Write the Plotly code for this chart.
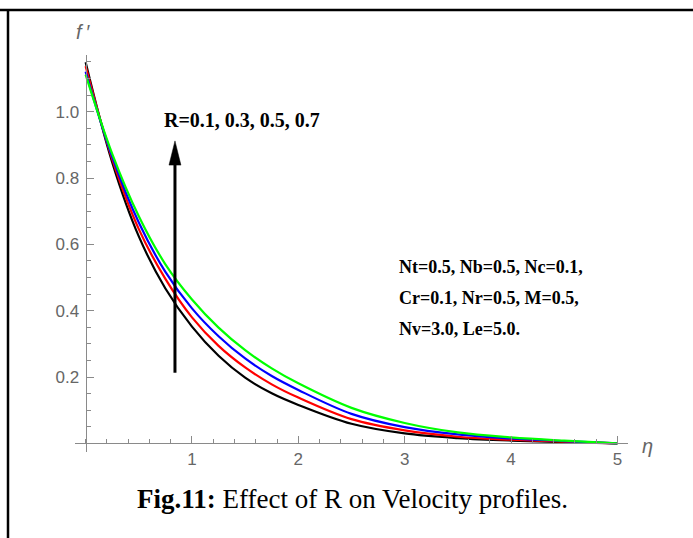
import plotly.graph_objects as go

# ---- data ----
eta = [0, 0.25, 0.5, 0.75, 1.0, 1.25, 1.5, 1.75, 2.0, 2.5, 3.0, 3.5, 4.0, 4.5, 5.0]
f_R01 = [1.149, 0.847, 0.624, 0.467, 0.352, 0.264, 0.198, 0.151, 0.116, 0.059, 0.030, 0.016, 0.0085, 0.004, 0.0]
f_R03 = [1.137, 0.857, 0.646, 0.496, 0.380, 0.294, 0.229, 0.178, 0.138, 0.073, 0.039, 0.020, 0.011, 0.005, 0.0]
f_R05 = [1.121, 0.864, 0.666, 0.517, 0.407, 0.323, 0.256, 0.203, 0.161, 0.089, 0.049, 0.027, 0.015, 0.007, 0.0]
f_R07 = [1.112, 0.873, 0.685, 0.540, 0.434, 0.349, 0.281, 0.226, 0.181, 0.107, 0.0615, 0.033, 0.018, 0.008, 0.0]

series = [("R=0.1", f_R01, "#000000"),
          ("R=0.3", f_R03, "#ff0000"),
          ("R=0.5", f_R05, "#0000ff"),
          ("R=0.7", f_R07, "#00ff00")]

x_tickvals = [1, 2, 3, 4, 5]
x_ticktext = ["1", "2", "3", "4", "5"]
y_tickvals = [0.2, 0.4, 0.6, 0.8, 1.0]
y_ticktext = ["0.2", "0.4", "0.6", "0.8", "1.0"]

X_RANGE = [-0.1, 5.1]
Y_RANGE = [-0.026, 1.171]

# ---- layout geometry (pixels) ----
W, H = 693, 538
ML, MR, MT, MB = 75, 65, 55, 86
PW, PH = W - ML - MR, H - MT - MB


def px(xpix):
    return (xpix - ML) / PW


def py(ypix):
    return (H - MB - ypix) / PH


fig = go.Figure()
for name, ys, col in series:
    fig.add_trace(go.Scatter(x=eta, y=ys, mode="lines", name=name,
                             line=dict(color=col, width=2.2, shape="spline", smoothing=1.0),
                             showlegend=False, hoverinfo="skip"))

axis_col = "#8a8a8a"
tick_font = dict(family="Liberation Sans, Arial, sans-serif", size=17, color="#666666")

x_pos = (0 - Y_RANGE[0]) / (Y_RANGE[1] - Y_RANGE[0])
y_pos = (0 - X_RANGE[0]) / (X_RANGE[1] - X_RANGE[0])

fig.update_layout(
    width=W, height=H,
    margin=dict(l=ML, r=MR, t=MT, b=MB, pad=0),
    paper_bgcolor="white", plot_bgcolor="white",
    xaxis=dict(range=X_RANGE, anchor="free", position=x_pos,
               showgrid=False, zeroline=False, showline=True,
               linecolor=axis_col, linewidth=1.2,
               tickmode="array", tickvals=x_tickvals, ticktext=x_ticktext,
               ticks="inside", ticklen=7, tickwidth=1, tickcolor=axis_col,
               tickfont=tick_font,
               minor=dict(dtick=0.2, tick0=0, ticks="inside", ticklen=4,
                          tickwidth=1, tickcolor=axis_col, showgrid=False)),
    yaxis=dict(range=Y_RANGE, anchor="free", position=y_pos,
               showgrid=False, zeroline=False, showline=True,
               linecolor=axis_col, linewidth=1.2,
               tickmode="array", tickvals=y_tickvals, ticktext=y_ticktext,
               ticks="inside", ticklen=7, tickwidth=1, tickcolor=axis_col,
               tickfont=tick_font, ticklabelstandoff=3,
               minor=dict(dtick=0.05, tick0=0, ticks="inside", ticklen=4,
                          tickwidth=1, tickcolor=axis_col, showgrid=False)),
)

# frame lines of the figure box
fig.add_shape(type="line", xref="paper", yref="paper",
              x0=px(0), x1=px(W), y0=py(10), y1=py(10),
              line=dict(color="black", width=2.5))
fig.add_shape(type="line", xref="paper", yref="paper",
              x0=px(8), x1=px(8), y0=py(10), y1=py(H),
              line=dict(color="black", width=2.5))

# arrow (shaft + head) in data coordinates
ARROW_X, ARROW_Y0, ARROW_BASE, ARROW_TIP, HEAD_HALF = 0.84, 0.213, 0.839, 0.912, 0.056
fig.add_shape(type="line", xref="x", yref="y",
              x0=ARROW_X, x1=ARROW_X, y0=ARROW_Y0, y1=ARROW_BASE + 0.01,
              line=dict(color="black", width=3))
fig.add_shape(type="path", xref="x", yref="y",
              path=f"M {ARROW_X - HEAD_HALF},{ARROW_BASE} L {ARROW_X},{ARROW_TIP} "
                   f"L {ARROW_X + HEAD_HALF},{ARROW_BASE} Z",
              fillcolor="black", line=dict(color="black", width=0.5))

serif = "Liberation Serif, Times New Roman, serif"
ann = []
ann.append(dict(text="<i>f\u2009\u2032</i>", x=px(83), y=py(32), xref="paper", yref="paper",
                xanchor="center", yanchor="middle", showarrow=False,
                font=dict(family="Liberation Sans, Arial", size=20, color="#666666")))
ann.append(dict(text="<i>\u03b7</i>", x=px(647), y=py(446), xref="paper", yref="paper",
                xanchor="center", yanchor="middle", showarrow=False,
                font=dict(family="Liberation Sans, Arial", size=20, color="#666666")))
ann.append(dict(text="<b>R=0.1, 0.3, 0.5, 0.7</b>", x=px(162), y=py(120), xref="paper", yref="paper",
                xanchor="left", yanchor="middle", showarrow=False,
                font=dict(family=serif, size=20, color="black")))
param_lines = ["Nt=0.5, Nb=0.5, Nc=0.1,", "Cr=0.1, Nr=0.5, M=0.5,", "Nv=3.0, Le=5.0."]
for i, line in enumerate(param_lines):
    ann.append(dict(text=f"<b>{line}</b>", x=px(397), y=py(267 + 31 * i), xref="paper", yref="paper",
                    xanchor="left", yanchor="middle", showarrow=False,
                    font=dict(family=serif, size=18, color="black")))
ann.append(dict(text="<b>Fig.11:</b> Effect of R on Velocity profiles.", x=px(352), y=py(499),
                xref="paper", yref="paper", xanchor="center", yanchor="middle", showarrow=False,
                font=dict(family=serif, size=27, color="black")))
fig.update_layout(annotations=ann)

fig.write_html("out.html")
